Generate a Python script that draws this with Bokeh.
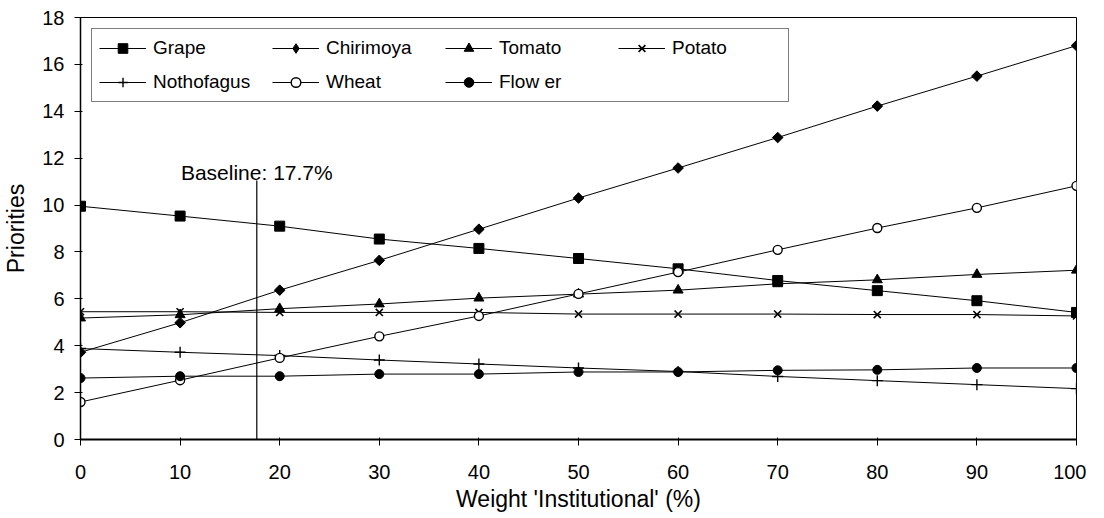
import numpy as np
from bokeh.plotting import figure
from bokeh.models import Legend, LegendItem, Label, Range1d, FixedTicker
from bokeh.embed import file_html
from bokeh.resources import INLINE

weights = [0, 10, 20, 30, 40, 50, 60, 70, 80, 90, 100]
grape = [9.95, 9.53, 9.1, 8.55, 8.15, 7.72, 7.28, 6.78, 6.35, 5.92, 5.42]
chirimoya = [3.72, 4.98, 6.37, 7.64, 8.97, 10.3, 11.58, 12.88, 14.22, 15.5, 16.8]
tomato = [5.18, 5.32, 5.58, 5.78, 6.03, 6.2, 6.37, 6.64, 6.81, 7.04, 7.22]
potato = [5.45, 5.45, 5.42, 5.42, 5.42, 5.35, 5.35, 5.35, 5.33, 5.33, 5.27]
nothofagus = [3.88, 3.72, 3.58, 3.39, 3.22, 3.05, 2.9, 2.69, 2.51, 2.34, 2.17]
wheat = [1.6, 2.53, 3.48, 4.4, 5.27, 6.21, 7.14, 8.09, 9.02, 9.88, 10.82]
flower = [2.62, 2.7, 2.7, 2.79, 2.79, 2.88, 2.88, 2.95, 2.97, 3.05, 3.05]

baseline_x = 17.7
baseline_top = 11.05
baseline_text = "Baseline: 17.7%"

x_ticks = [0, 10, 20, 30, 40, 50, 60, 70, 80, 90, 100]
y_ticks = [0, 2, 4, 6, 8, 10, 12, 14, 16, 18]

FONT = "Liberation Sans"

p = figure(frame_width=996, frame_height=422, min_border_left=79, min_border_top=17,
           min_border_right=10, min_border_bottom=70,
           x_range=Range1d(0, 100), y_range=Range1d(0, 18),
           output_backend="svg", toolbar_location=None, tools="")

p.outline_line_color = "black"
p.outline_line_width = 1
p.xgrid.visible = False
p.ygrid.visible = False
p.background_fill_color = "white"
p.border_fill_color = "white"

for ax in (p.xaxis[0], p.yaxis[0]):
    ax.major_label_text_font = FONT
    ax.major_label_text_font_size = "20px"
    ax.major_label_text_color = "black"
    ax.axis_label_text_font = FONT
    ax.axis_label_text_font_size = "23px"
    ax.axis_label_text_font_style = "normal"
    ax.axis_label_text_color = "black"
    ax.axis_line_color = "black"
    ax.major_tick_line_color = "black"
    ax.major_tick_out = 6
    ax.major_tick_in = 2
    ax.minor_tick_line_color = None

p.xaxis.ticker = FixedTicker(ticks=x_ticks)
p.yaxis.ticker = FixedTicker(ticks=y_ticks)
p.xaxis.axis_line_width = 2
p.yaxis.axis_line_width = 1.5
p.xaxis.major_label_standoff = 19
p.yaxis.major_label_standoff = 10
p.xaxis.axis_label = "Weight 'Institutional' (%)"
p.yaxis.axis_label = "Priorities"
p.xaxis.axis_label_standoff = 4
p.yaxis.axis_label_standoff = 10

# baseline marker
p.segment(x0=[baseline_x], y0=[0], x1=[baseline_x], y1=[baseline_top],
          line_color="black", line_width=1.2)
p.add_layout(Label(x=baseline_x, y=baseline_top + 0.35, text=baseline_text,
                   text_align="center", text_baseline="alphabetic",
                   text_font=FONT, text_font_size="21px", text_color="black"))

series = [
    ("Grape", grape, dict(marker="square", size=10, fill_color="black"), None),
    ("Chirimoya", chirimoya, dict(marker="square", size=7.5, angle=np.pi / 4, fill_color="black"),
     dict(marker="diamond", size=11, fill_color="black")),
    ("Tomato", tomato, dict(marker="triangle", size=10, fill_color="black"), None),
    ("Potato", potato, dict(marker="x", size=10, line_width=1.6), None),
    ("Nothofagus", nothofagus, dict(marker="cross", size=11, line_width=1.4), None),
    ("Wheat", wheat, dict(marker="circle", size=9, fill_color="white", line_width=1.4), None),
    ("Flower", flower, dict(marker="circle", size=9, fill_color="black"), None),
]

items = []
for name, ys, mk, legend_mk in series:
    r_line = p.line(weights, ys, line_color="black", line_width=1)
    r_pts = p.scatter(weights, ys, line_color="black", **mk)
    rends = [r_line, r_pts]
    if legend_mk is not None:
        # legend-only swatch (no visible data point)
        r_leg = p.scatter(x=[np.nan], y=[np.nan], line_color="black", **legend_mk)
        rends = [r_line, r_leg]
    label = "Flow er" if name == "Flower" else name
    items.append(LegendItem(label=label, renderers=rends))

legend = Legend(items=items, location="top_left", orientation="horizontal", ncols=4,
                margin=11, padding=7, spacing=10, glyph_width=47, glyph_height=24,
                label_standoff=7, label_width=109, label_height=24,
                label_text_font=FONT, label_text_font_size="19px", label_text_color="black",
                border_line_color="black", border_line_width=1,
                background_fill_color="white", background_fill_alpha=1)
p.add_layout(legend)

open("out.html", "w").write(file_html(p, INLINE))
